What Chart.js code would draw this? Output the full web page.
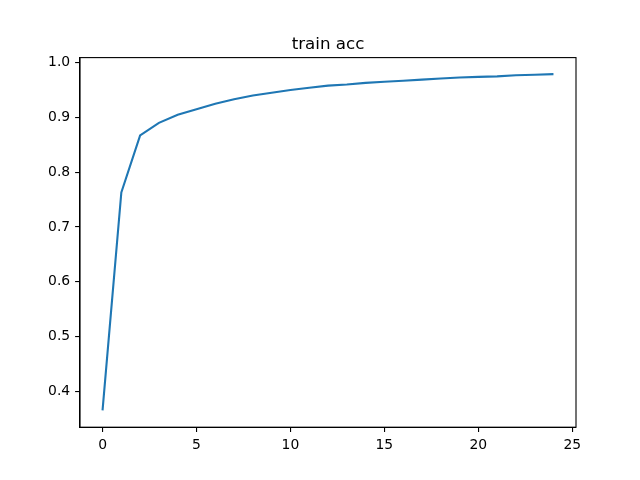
<!DOCTYPE html>
<html>
<head>
<meta charset="utf-8">
<script src="https://cdn.jsdelivr.net/npm/chart.js@4"></script>
<style>html,body{margin:0;padding:0;background:#fff;}canvas{display:block;}</style>
</head>
<body>
<canvas id="c" width="640" height="480"></canvas>
<script>
const epochs = [0,1,2,3,4,5,6,7,8,9,10,11,12,13,14,15,16,17,18,19,20,21,22,23,24];
const trainAcc = [0.365,0.763,0.867,0.890,0.905,0.915,0.925,0.933,0.940,0.945,0.950,0.954,0.958,0.960,0.963,0.965,0.967,0.969,0.971,0.973,0.974,0.975,0.977,0.978,0.979];
const xTicks = [0,5,10,15,20,25];
const yTicks = [0.4,0.5,0.6,0.7,0.8,0.9,1.0];
const titleText = 'train acc';

const font = {family: 'DejaVu Sans', size: 13.9};

const framePlugin = {
  id: 'frame',
  afterDraw(chart) {
    const {ctx, chartArea: a} = chart;
    ctx.save();
    ctx.strokeStyle = '#000';
    ctx.lineWidth = 1.1;
    ctx.strokeRect(a.left, a.top, a.right - a.left, a.bottom - a.top);
    ctx.fillStyle = '#000';
    ctx.font = '16.7px "DejaVu Sans"';
    ctx.textAlign = 'center';
    ctx.textBaseline = 'alphabetic';
    ctx.fillText(titleText, (a.left + a.right) / 2, a.top - 8.3);
    ctx.restore();
  }
};

new Chart(document.getElementById('c'), {
  type: 'line',
  data: {
    datasets: [{
      data: epochs.map((e, i) => ({x: e, y: trainAcc[i]})),
      borderColor: '#1f77b4',
      borderWidth: 2.1,
      pointRadius: 0,
      tension: 0,
      fill: false
    }]
  },
  options: {
    responsive: false,
    devicePixelRatio: 1,
    animation: false,
    layout: {padding: {top: 57.6, right: 64, left: 0, bottom: 0}},
    plugins: {legend: {display: false}, tooltip: {enabled: false}, title: {display: false}},
    scales: {
      x: {
        type: 'linear',
        min: -1.2, max: 25.2,
        afterBuildTicks(s) { s.ticks = xTicks.map(v => ({value: v})); },
        afterFit(s) { s.height = 52.8; },
        grid: {display: true, drawOnChartArea: false, drawTicks: true, tickLength: 4.9, color: '#000', lineWidth: 1.1},
        border: {display: true, color: '#000', width: 1.1},
        ticks: {color: '#000', font, padding: 4.9, maxRotation: 0, autoSkip: false,
          callback: v => String(v)}
      },
      y: {
        type: 'linear',
        min: 0.3343, max: 1.0092,
        afterBuildTicks(s) { s.ticks = yTicks.map(v => ({value: v})); },
        afterFit(s) { s.width = 80; },
        grid: {display: true, drawOnChartArea: false, drawTicks: true, tickLength: 4.9, color: '#000', lineWidth: 1.1},
        border: {display: true, color: '#000', width: 1.1},
        ticks: {color: '#000', font, padding: 4.9, autoSkip: false,
          callback: v => v.toFixed(1)}
      }
    }
  },
  plugins: [framePlugin]
});
</script>
</body>
</html>
